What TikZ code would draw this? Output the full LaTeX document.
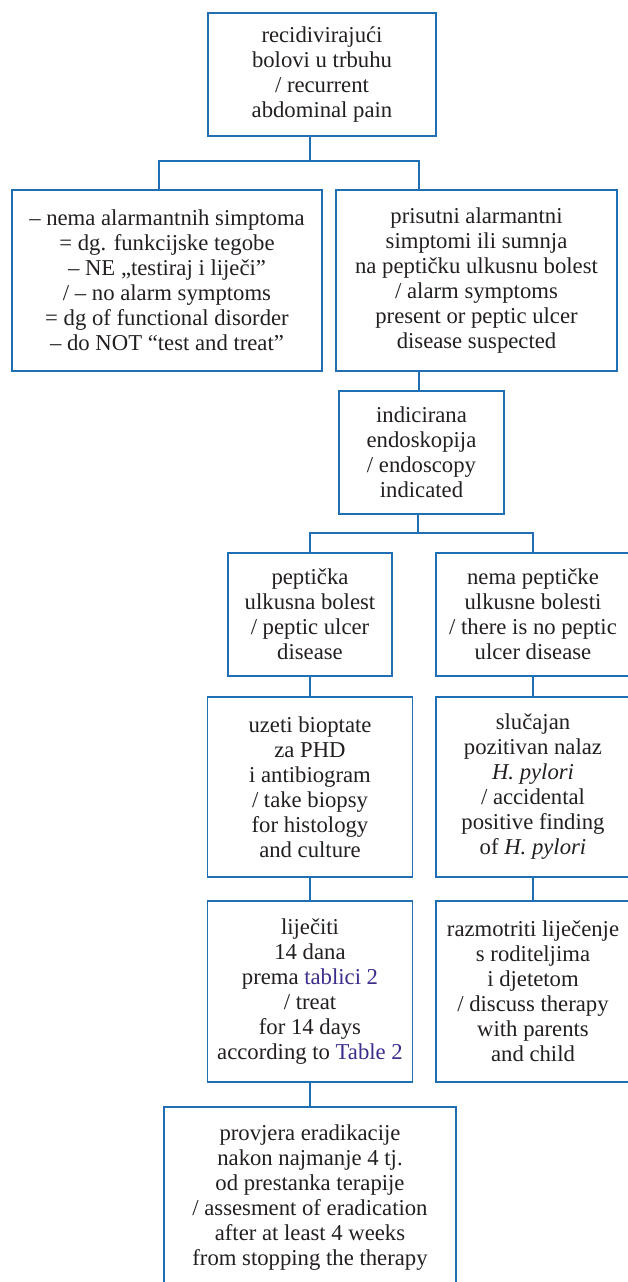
\documentclass[tikz,border=0pt]{standalone}
\usepackage{fontspec}
\setmainfont{Liberation Serif}
\definecolor{boxblue}{RGB}{32,110,180}
\definecolor{txt}{RGB}{35,31,32}
\definecolor{linkc}{RGB}{62,44,140}
\begin{document}
\begin{tikzpicture}[x=1pt,y=-1pt,
  box/.style={draw=boxblue,line width=1.5pt,inner sep=0pt,align=center,
    text=txt,font=\fontsize{22.7}{25}\selectfont},
  conn/.style={draw=boxblue,line width=1.5pt}]
\useasboundingbox (0,0) rectangle (627,1282);
% nodes
\node[box,minimum width=228,minimum height=123] (b1) at (322,74.5)
  {recidivirajući\\bolovi u trbuhu\\/ recurrent\\abdominal pain};
\node[box,minimum width=310,minimum height=181] (b2L) at (167,280.5)
  {– nema alarmantnih simptoma\\= dg. funkcijske tegobe\\– NE „testiraj i liječi”\\/ – no alarm symptoms\\= dg of functional disorder\\– do NOT “test and treat”};
\node[box,minimum width=281,minimum height=181] (b2R) at (476.5,280.5)
  {prisutni alarmantni\\simptomi ili sumnja\\na peptičku ulkusnu bolest\\/ alarm symptoms\\present or peptic ulcer\\disease suspected};
\node[box,minimum width=165,minimum height=123] (b3) at (421.5,452.5)
  {indicirana\\endoskopija\\/ endoscopy\\indicated};
\node[box,minimum width=164,minimum height=123] (b4L) at (310,614.5)
  {peptička\\ulkusna bolest\\/ peptic ulcer\\disease};
\node[box,minimum width=194,minimum height=123] (b4R) at (533,614.5)
  {nema peptičke\\ulkusne bolesti\\/ there is no peptic\\ulcer disease};
\node[box,minimum width=205,minimum height=180] (b5L) at (310,787)
  {uzeti bioptate\\za PHD\\i antibiogram\\/ take biopsy\\for histology\\and culture};
\node[box,minimum width=194,minimum height=180] (b5R) at (533,787)
  {slučajan\\pozitivan nalaz\\\textit{H. pylori}\\/ accidental\\positive finding\\of \textit{H. pylori}};
\node[box,minimum width=205,minimum height=181] (b6L) at (310,991.5)
  {liječiti\\14 dana\\prema \textcolor{linkc}{tablici 2}\\/ treat\\for 14 days\\according to \textcolor{linkc}{Table 2}};
\node[box,minimum width=194,minimum height=181] (b6R) at (533,991.5)
  {razmotriti liječenje\\s roditeljima\\i djetetom\\/ discuss therapy\\with parents\\and child};
\node[box,minimum width=292,minimum height=182] (b7) at (310,1198)
  {provjera eradikacije\\nakon najmanje 4 tj.\\od prestanka terapije\\/ assesment of eradication\\after at least 4 weeks\\from stopping the therapy};
% junctions
\coordinate (j1) at (310,161);
\coordinate (xL) at (159,161);
\coordinate (xR) at (419,161);
\coordinate (j3) at (418,533);
% connectors
\draw[conn] (b1.south -| j1) -- (j1);
\draw[conn] (b2L.north -| xL) |- (j1) -| (b2R.north -| xR);
\draw[conn] (b2R.south -| xR) -- (b3.north -| xR);
\draw[conn] (b3.south -| j3) -- (j3);
\draw[conn] (b4L.north) |- (j3) -| (b4R.north);
\draw[conn] (b4L.south) -- (b5L.north);
\draw[conn] (b4R.south) -- (b5R.north);
\draw[conn] (b5L.south) -- (b6L.north);
\draw[conn] (b5R.south) -- (b6R.north);
\draw[conn] (b6L.south) -- (b7.north);
\end{tikzpicture}
\end{document}
